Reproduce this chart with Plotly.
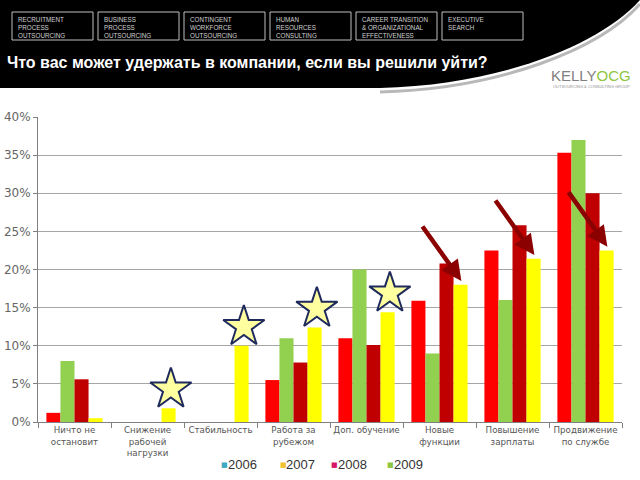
import plotly.graph_objects as go

# ---------------- data ----------------
categories = ["Ничто не<br>остановит", "Снижение<br>рабочей<br>нагрузки", "Стабильность",
              "Работа за<br>рубежом", "Доп. обучение", "Новые<br>функции",
              "Повышение<br>зарплаты", "Продвижение<br>по службе"]
v_red = [1.2, 0, 0, 5.5, 11.0, 15.9, 22.5, 35.3]
v_green = [8.0, 0, 0, 11.0, 20.0, 9.0, 16.0, 37.0]
v_darkred = [5.6, 0, 0, 7.8, 10.1, 20.8, 25.8, 30.0]
v_yellow = [0.5, 1.8, 10.0, 12.4, 14.4, 18.0, 21.4, 22.5]
star_idx = [1, 2, 3, 4]
arrow_idx = [5, 6, 7]
legend_years = ["2006", "2007", "2008", "2009"]
legend_colors = ["#3FA9C4", "#F2C230", "#D6186A", "#8DC63F"]
y_ticks = [0, 5, 10, 15, 20, 25, 30, 35, 40]
y_ticktext = ["0%", "5%", "10%", "15%", "20%", "25%", "30%", "35%", "40%"]
header_boxes = ["RECRUITMENT<br>PROCESS<br>OUTSOURCING", "BUSINESS<br>PROCESS<br>OUTSOURCING",
                "CONTINGENT<br>WORKFORCE<br>OUTSOURCING", "HUMAN<br>RESOURCES<br>CONSULTING",
                "CAREER TRANSITION<br>& ORGANIZATIONAL<br>EFFECTIVENESS", "EXECUTIVE<br>SEARCH"]
title_text = "Что вас может удержать в компании, если вы решили уйти?"

# ---------------- geometry helpers ----------------
W, H = 640, 480
L, R, T, B = 38, 622, 117, 422


def px(x):
    return (x - L) / (R - L)


def py(y):
    return (B - y) / (B - T)


fig = go.Figure()
series = [("2006", v_red, "#FF0000"), ("2007", v_green, "#92D050"),
          ("2008", v_darkred, "#C00000"), ("2009", v_yellow, "#FFFF00")]
for name, vals, col in series:
    fig.add_trace(go.Bar(x=categories, y=vals, name=name, marker=dict(color=col, line=dict(width=0)),
                         showlegend=False, hoverinfo="y"))

# stars above yellow bars
fig.add_trace(go.Scatter(x=[i + 0.32 for i in star_idx], y=[v_yellow[i] + 2.5 for i in star_idx],
                         xaxis="x2", yaxis="y", mode="markers", showlegend=False,
                         marker=dict(symbol="star", size=31, color="#FFFFA0",
                                     line=dict(color="#1F2A5C", width=2))))

shapes = []
annotations = []


def P(x, y):
    return f"{px(x):.5f},{py(y):.5f}"


shadow = f"M {P(640, 4)} C {P(600, 49)} {P(500, 89)} {P(380, 92)}"
shapes.append(dict(type="path", xref="paper", yref="paper", path=shadow,
                   line=dict(color="#B8B8B8", width=3)))
hdr = (f"M {P(0, 0)} L {P(640, 0)} C {P(600, 45)} {P(500, 85)} {P(380, 88)} "
       f"L {P(0, 88)} Z")
shapes.append(dict(type="path", xref="paper", yref="paper", path=hdr,
                   fillcolor="#000000", line=dict(width=0)))

for k, txt in enumerate(header_boxes):
    x0 = 12 + 86 * k
    shapes.append(dict(type="rect", xref="paper", yref="paper", x0=px(x0), x1=px(x0 + 81),
                       y0=py(12), y1=py(40), line=dict(color="#BFBFBF", width=1)))
    annotations.append(dict(xref="paper", yref="paper", x=px(x0 + 4), y=py(14), xanchor="left",
                            yanchor="top", align="left", showarrow=False, text=txt,
                            font=dict(family="Liberation Sans", size=6.3, color="#D0D0D0")))

annotations.append(dict(xref="paper", yref="paper", x=px(5), y=py(63), xanchor="left", yanchor="middle",
                        showarrow=False, text=f"<b>{title_text}</b>",
                        font=dict(family="Liberation Sans", size=16, color="#FFFFFF")))

# logo
annotations.append(dict(xref="paper", yref="paper", x=px(591), y=py(76), xanchor="center", yanchor="middle",
                        showarrow=False,
                        text="<span style='color:#808080'>KELLY</span><span style='color:#8DC63F'>OCG</span>",
                        font=dict(family="Liberation Sans", size=15)))
annotations.append(dict(xref="paper", yref="paper", x=px(591), y=py(87), xanchor="center", yanchor="middle",
                        showarrow=False, text="OUTSOURCING & CONSULTING GROUP",
                        font=dict(family="Liberation Sans", size=4, color="#909090")))

# arrows to yellow bars
for i in arrow_idx:
    annotations.append(dict(xref="x2", yref="y", x=i + 0.3, y=v_yellow[i] + 0.5, ax=-40, ay=-56,
                            showarrow=True, arrowhead=2, arrowsize=0.9, arrowwidth=4.5,
                            arrowcolor="#8B0000", text=""))

# legend (as in reference)
leg_sq = [219, 278, 329, 385]
leg_tx = [227, 285, 337, 393]
for yr, col, sx, tx in zip(legend_years, legend_colors, leg_sq, leg_tx):
    annotations.append(dict(xref="paper", yref="paper", x=px(sx), y=py(465), xanchor="left",
                            yanchor="middle", showarrow=False, text="■",
                            font=dict(family="DejaVu Sans", size=7, color=col)))
    annotations.append(dict(xref="paper", yref="paper", x=px(tx - 1), y=py(464), xanchor="left",
                            yanchor="middle", showarrow=False, text=yr,
                            font=dict(family="Liberation Sans", size=13, color="#333333")))

fig.update_layout(
    width=W, height=H, margin=dict(l=L, r=W - R, t=T, b=H - B, autoexpand=False),
    paper_bgcolor="white", plot_bgcolor="white", template="none",
    barmode="group", bargap=0.23, bargroupgap=0, showlegend=False,
    shapes=shapes, annotations=annotations,
    xaxis=dict(type="category", tickson="boundaries", ticks="outside", ticklen=5, tickcolor="#808080",
               showline=True, linecolor="#808080", linewidth=1, showgrid=False, automargin=False,
               tickfont=dict(family="DejaVu Sans", size=8.7, color="#555555"), tickangle=0),
    xaxis2=dict(overlaying="x", range=[-0.5, 7.5], visible=False, anchor="y"),
    yaxis=dict(range=[0, 40], tickmode="array", tickvals=y_ticks, ticktext=y_ticktext,
               ticks="outside", ticklen=4,
               tickcolor="#808080", showline=True, linecolor="#808080", linewidth=1,
               showgrid=True, gridcolor="#A6A6A6", gridwidth=1, zeroline=False, automargin=False,
               tickfont=dict(family="DejaVu Sans", size=12, color="#666666")),
)

fig.write_html("out.html", config={"displayModeBar": False},
               post_script="document.body.style.margin='0';document.body.style.padding='0';")
